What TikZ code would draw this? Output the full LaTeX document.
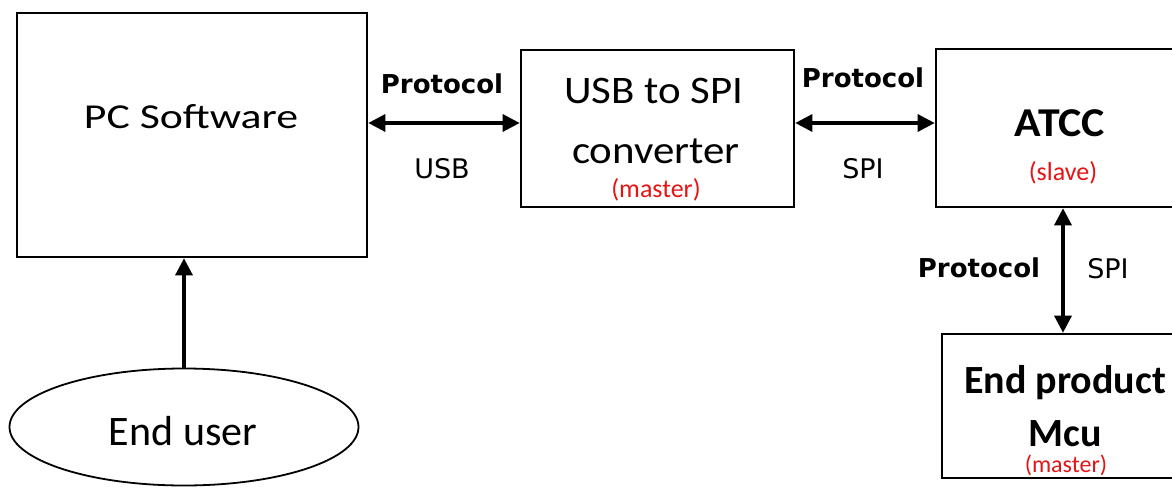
\documentclass[tikz,border=0pt]{standalone}
\usepackage{fontspec}
\setmainfont{Carlito}
\newfontfamily\lblfont{DejaVu Sans}
\newfontfamily\widea[FakeStretch=1.25]{Carlito}
\newfontfamily\wideb[FakeStretch=1.1]{Carlito}
\newfontfamily\widec[FakeStretch=1.07]{Carlito}
\usetikzlibrary{arrows.meta,shapes.geometric}
\definecolor{redtxt}{RGB}{230,20,20}
\begin{document}
\begin{tikzpicture}[x=1pt,y=-1pt,
  box/.style={draw,line width=2.6pt,inner sep=0pt},
  oval/.style={draw,ellipse,line width=1.8pt,inner sep=0pt},
  conn/.style={line width=3.2pt,-{Triangle[length=17pt,width=17pt]}},
  biconn/.style={line width=3.2pt,{Triangle[length=17pt,width=17pt]}-{Triangle[length=17pt,width=17pt]}},
  big/.style={anchor=base,inner sep=0pt,font=\wideb\fontsize{39}{44}\selectfont},
  bigb/.style={anchor=base,inner sep=0pt,font=\fontsize{40}{46}\selectfont\bfseries},
  note/.style={anchor=base,inner sep=0pt,text=redtxt,font=\fontsize{26}{28}\selectfont},
  proto/.style={anchor=base,inner sep=0pt,font=\lblfont\bfseries\fontsize{26}{28}\selectfont},
  bus/.style={anchor=base,inner sep=0pt,font=\lblfont\fontsize{27}{28}\selectfont}]
\clip (0,0) rectangle (1172,487);
\fill[white] (0,0) rectangle (1172,487);
% boxes
\node[box,minimum width=350pt,minimum height=244pt] (pc) at (192,135) {};
\node[box,minimum width=273pt,minimum height=157pt] (usb) at (657.5,128.5) {};
\node[box,minimum width=254pt,minimum height=158pt] (atcc) at (1063,128) {};
\node[box,minimum width=248pt,minimum height=144pt] (endp) at (1066,406) {};
\node[oval,minimum width=349pt,minimum height=117pt] (eu) at (184,427) {};
% texts
\node[big,font=\widea\fontsize{35}{42}\selectfont] (tpc) at (191,128) {PC Software};
\node[big,font=\fontsize{42}{46}\selectfont] (teu) at (183,445) {End user};
\node[big] (tusb1) at (654,103) {USB to SPI};
\node[big] (tusb2) at (656,163) {converter};
\node[note] (tusb3) at (656,197) {(master)};
\node[bigb,font=\widec\fontsize{41}{46}\selectfont\bfseries] (tatcc) at (1060,136) {ATCC};
\node[note] (tatcc2) at (1063,180) {(slave)};
\node[bigb] (tend1) at (1065,393) {End product};
\node[bigb] (tend2) at (1065,446) {Mcu};
\node[note,font=\fontsize{24}{28}\selectfont] (tend3) at (1066,472) {(master)};
% connectors
\coordinate (ay) at (0,123);
\draw[biconn] (pc.east |- ay) -- (usb.west |- ay);
\draw[biconn] (usb.east |- ay) -- (atcc.west |- ay);
\draw[biconn] (atcc.south) -- (endp.north -| atcc.south);
\draw[conn] (eu.north) -- (pc.south -| eu.north);
% connector labels
\node[proto] (p1) at (442,93) {Protocol};
\node[bus] (b1) at (442,178) {USB};
\node[proto] (p2) at (863,87) {Protocol};
\node[bus] (b2) at (863,178) {SPI};
\node[proto] (p3) at (979,277) {Protocol};
\node[bus] (b3) at (1108,278) {SPI};
\end{tikzpicture}
\end{document}
